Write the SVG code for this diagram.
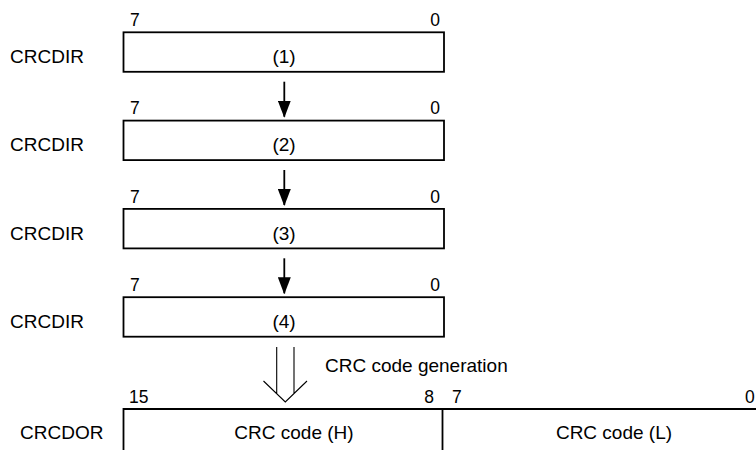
<svg xmlns="http://www.w3.org/2000/svg" width="756" height="450" viewBox="0 0 756 450">
<style>
text{font-family:"Liberation Sans",Arial,sans-serif;fill:#000}
.m{font-size:19px}
.b{font-size:17.5px}
.box{fill:#fff;stroke:#000;stroke-width:1.8}
.ln{stroke:#000;stroke-width:1.8;fill:none}
.thin{stroke:#000;stroke-width:1.1;fill:none}
</style>
<defs>
<marker id="ah" markerUnits="userSpaceOnUse" markerWidth="17" markerHeight="13" refX="16" refY="6.5" orient="auto" viewBox="0 0 17 13">
<path d="M0,0 L17,6.5 L0,13 Z" fill="#000"/>
</marker>
</defs>
<g id="reg1">
<text class="m" x="10" y="63">CRCDIR</text>
<text class="b" x="130" y="26">7</text>
<text class="b" x="440" y="26" text-anchor="end">0</text>
<rect class="box" x="123.5" y="32.3" width="320.5" height="39.5"/>
<text class="m" x="284" y="63" text-anchor="middle">(1)</text>
</g>
<g id="reg2">
<text class="m" x="10" y="151.3">CRCDIR</text>
<text class="b" x="130" y="114.3">7</text>
<text class="b" x="440" y="114.3" text-anchor="end">0</text>
<rect class="box" x="123.5" y="120.6" width="320.5" height="39.5"/>
<text class="m" x="284" y="151.3" text-anchor="middle">(2)</text>
</g>
<g id="reg3">
<text class="m" x="10" y="239.6">CRCDIR</text>
<text class="b" x="130" y="202.6">7</text>
<text class="b" x="440" y="202.6" text-anchor="end">0</text>
<rect class="box" x="123.5" y="208.9" width="320.5" height="39.5"/>
<text class="m" x="284" y="239.6" text-anchor="middle">(3)</text>
</g>
<g id="reg4">
<text class="m" x="10" y="327.9">CRCDIR</text>
<text class="b" x="130" y="290.9">7</text>
<text class="b" x="440" y="290.9" text-anchor="end">0</text>
<rect class="box" x="123.5" y="297.2" width="320.5" height="39.5"/>
<text class="m" x="284" y="327.9" text-anchor="middle">(4)</text>
</g>
<g id="crcdor">
<text class="m" x="20" y="439">CRCDOR</text>
<text class="b" x="129" y="403">15</text>
<text class="b" x="434" y="403" text-anchor="end">8</text>
<text class="b" x="452" y="403">7</text>
<text class="b" x="745" y="403">0</text>
<path class="ln" d="M123.5,450 V409 H756 M442.5,409 V450"/>
<text class="m" x="294" y="439" text-anchor="middle">CRC code (H)</text>
<text class="m" x="614" y="439" text-anchor="middle">CRC code (L)</text>
</g>
<g id="connectors">
<line class="ln" x1="284.3" y1="81.7" x2="284.3" y2="116.7" marker-end="url(#ah)"/>
<line class="ln" x1="284.3" y1="170" x2="284.3" y2="205" marker-end="url(#ah)"/>
<line class="ln" x1="284.3" y1="258.3" x2="284.3" y2="293.3" marker-end="url(#ah)"/>
<path class="thin" d="M276.7,347 V394 M294,347 V394 M263.5,381 L285.3,402 L307,381"/>
<text class="m" x="325" y="372">CRC code generation</text>
</g>
</svg>
